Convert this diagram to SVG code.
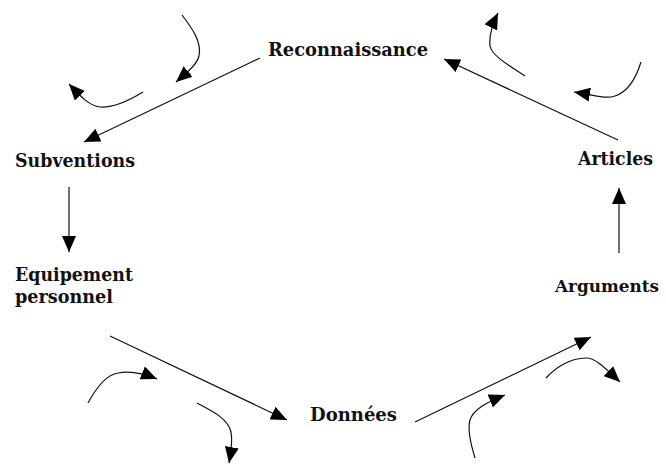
<svg xmlns="http://www.w3.org/2000/svg" width="666" height="464" viewBox="0 0 666 464">
<defs>
<marker id="ah" viewBox="0 0 16 14" markerWidth="16" markerHeight="14" refX="16" refY="7" orient="auto" markerUnits="userSpaceOnUse">
<path d="M0,0 L16,7 L0,14 z" fill="#000"/>
</marker>
<style>
.lbl{font-family:"DejaVu Serif","Liberation Serif",serif;font-weight:bold;font-size:18.5px;fill:#111}
.c{fill:none;stroke:#111;stroke-width:1.2;marker-end:url(#ah)}
</style>
</defs>
<rect width="666" height="464" fill="#fff"/>
<g id="connectors">
<path class="c" d="M260,58 L84,142"/>
<path class="c" d="M618,140 L444,59"/>
<path class="c" d="M69,187 L69,252"/>
<path class="c" d="M619,253 L619,188"/>
<path class="c" d="M110,336 L287,420"/>
<path class="c" d="M415,422 L591,337"/>
<path class="c" d="M182,15 C192,28 202,42 199,56 C197,64 190,70 176,82"/>
<path class="c" d="M143,92 C130,100 115,108 100,107 C90,106 82,98 69,84"/>
<path class="c" d="M525,76 C510,66 492,56 490,46 C489,36 492,25 498,13"/>
<path class="c" d="M641,62 C636,78 628,92 615,96 C606,99 598,96 574,92"/>
<path class="c" d="M88,403 C95,390 105,375 118,373 C128,371 140,372 157,379"/>
<path class="c" d="M197,403 C210,410 228,418 231,432 C233,442 231,452 229,463"/>
<path class="c" d="M475,458 C471,445 467,430 470,420 C473,410 485,403 505,395"/>
<path class="c" d="M546,378 C555,368 570,358 586,358 C596,358 605,368 620,382"/>
</g>
<g id="reconnaissance"><text class="lbl" x="268" y="56" textLength="160" lengthAdjust="spacingAndGlyphs">Reconnaissance</text></g>
<g id="subventions"><text class="lbl" x="15" y="167" textLength="120" lengthAdjust="spacingAndGlyphs">Subventions</text></g>
<g id="articles"><text class="lbl" x="578" y="165" textLength="75" lengthAdjust="spacingAndGlyphs">Articles</text></g>
<g id="equipement"><text class="lbl" x="15" y="281" textLength="118" lengthAdjust="spacingAndGlyphs">Equipement</text><text class="lbl" x="15" y="303" textLength="98" lengthAdjust="spacingAndGlyphs">personnel</text></g>
<g id="arguments"><text class="lbl" x="555" y="292" style="font-size:17px" textLength="104" lengthAdjust="spacingAndGlyphs">Arguments</text></g>
<g id="donnees"><text class="lbl" x="310" y="421" textLength="87" lengthAdjust="spacingAndGlyphs">Données</text></g>
</svg>
